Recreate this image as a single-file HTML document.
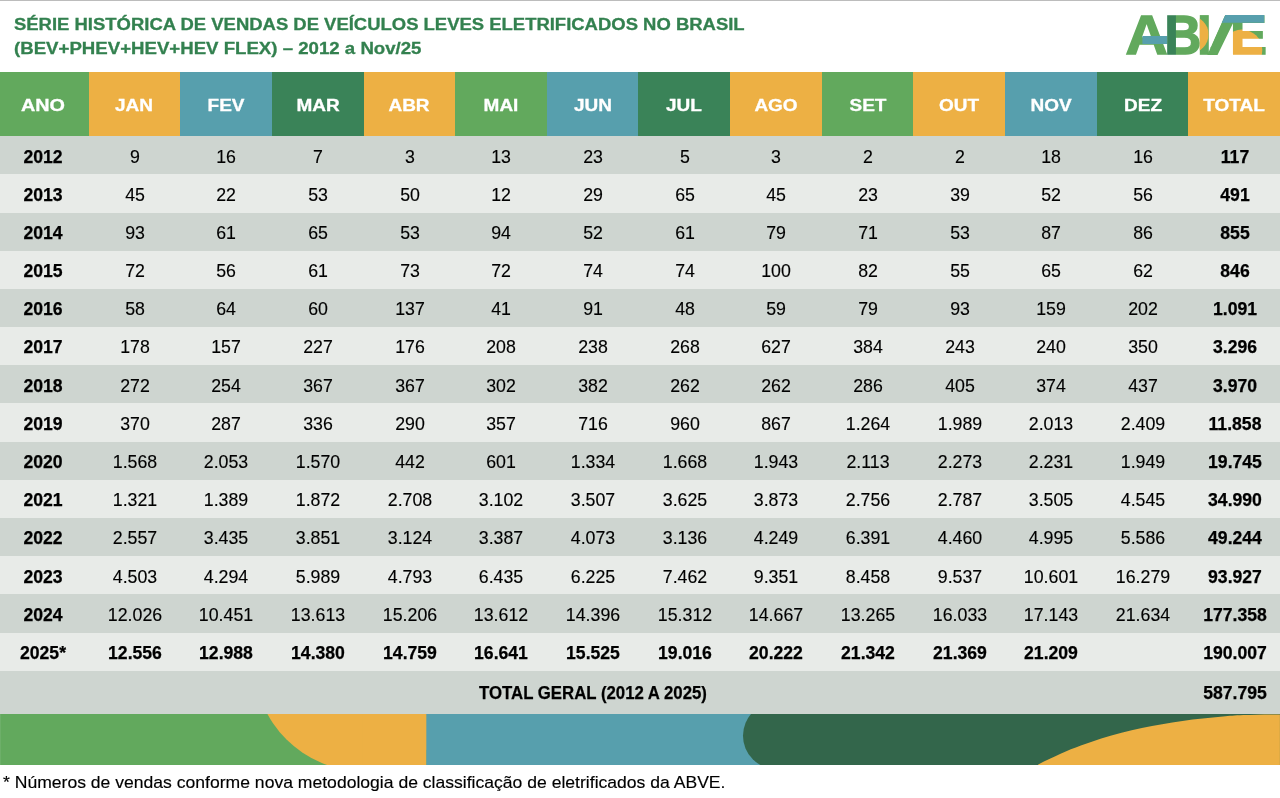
<!DOCTYPE html>
<html lang="pt-BR"><head><meta charset="utf-8"><title>ABVE</title>
<style>
html,body{margin:0;padding:0;background:#fff}
body{width:1280px;height:798px;position:relative;overflow:hidden;font-family:"Liberation Sans",sans-serif;color:#000}
.a{position:absolute}
.t{position:absolute;white-space:nowrap;line-height:1;transform-origin:50% 50%;text-align:center}
.n{-webkit-text-stroke:0.15px #000;font-size:17.9px;width:120px;margin-left:-60px;transform:scaleX(0.992)}
.b{font-weight:bold;transform:scaleX(0.984);-webkit-text-stroke:0.25px #000}
.h{-webkit-text-stroke:0.3px #fff;font-weight:bold;color:#fff;font-size:16.5px;width:120px;margin-left:-60px;transform:scaleX(1.15)}

</style></head><body>
<div class="a" style="left:0;top:0;width:1280px;height:1.4px;background:linear-gradient(#b2b2b2 0,#bdbdbd 55%,#f4f4f4 100%)"></div>
<div id="t1" class="t" style="left:14.3px;top:16.1px;font-weight:bold;font-size:17.2px;color:#33814f;-webkit-text-stroke:0.3px #33814f;transform-origin:0 50%;text-align:left;transform:scaleX(1.074)">SÉRIE HISTÓRICA DE VENDAS DE VEÍCULOS LEVES ELETRIFICADOS NO BRASIL</div>
<div id="t2" class="t" style="left:14.3px;top:39.9px;font-weight:bold;font-size:17.2px;color:#33814f;-webkit-text-stroke:0.3px #33814f;transform-origin:0 50%;text-align:left;transform:scaleX(1.084)">(BEV+PHEV+HEV+HEV FLEX) – 2012 a Nov/25</div>
<svg class="a" style="left:1120px;top:8px" width="160" height="56" viewBox="1120 8 160 56" font-family="Liberation Sans, sans-serif" font-weight="bold" font-size="55.5"><defs><mask id="mB" maskUnits="userSpaceOnUse" x="1120" y="8" width="160" height="56"><text transform="translate(1167.85,54.05) scale(0.919,1)" x="-3.71" y="0" fill="#fff" stroke="#fff" stroke-width="1.5" stroke-linejoin="miter">B</text></mask><mask id="mE" maskUnits="userSpaceOnUse" x="1120" y="8" width="160" height="56"><text transform="translate(1233.75,54.05) scale(1.000,1)" x="-3.71" y="0" fill="#fff" stroke="#fff" stroke-width="1.5" stroke-linejoin="miter">E</text></mask><clipPath id="cV"><polygon points="1207.3,54.9 1225.3,15.0 1250,15.0 1250,54.9"/></clipPath><clipPath id="cI"><rect x="1199.8" y="15.1" width="9" height="39.7"/></clipPath></defs><text transform="translate(1127.05,54.05) scale(1.054,1)" x="-1.38" y="0" fill="#62a95d" stroke="#62a95d" stroke-width="1.5" stroke-linejoin="miter">A</text><rect x="1142.4" y="36.0" width="25" height="8.0" fill="#579fad"/><g mask="url(#mB)"><rect x="1160" y="8" width="50" height="56" fill="#62a95d"/><rect x="1160" y="8" width="15.9" height="56" fill="#3a8358"/></g><rect x="1199.8" y="15.1" width="9" height="39.7" fill="#62a95d"/><circle cx="1190.2" cy="34.4" r="18.4" fill="#edb044" clip-path="url(#cI)"/><g clip-path="url(#cV)"><text transform="translate(1191.45,54.05) matrix(1.028,0,-0.1090,1,0,0)" x="0" y="0" fill="#62a95d" stroke="#62a95d" stroke-width="6" stroke-linejoin="miter">V</text></g><g mask="url(#mE)"><rect x="1228" y="8" width="45" height="56" fill="#62a95d"/><circle cx="1241.8" cy="50.1" r="20.5" fill="#edb044"/></g><polygon points="1225.3,15.1 1264.2,15.1 1264.2,22.8 1221.8,22.8" fill="#579fad"/></svg>
<div class="a" style="left:0.00px;top:72.2px;width:88.90px;height:64.00px;background:#62a95d"></div>
<div class="a" style="left:88.60px;top:72.2px;width:91.95px;height:64.00px;background:#edb044"></div>
<div class="a" style="left:180.25px;top:72.2px;width:91.95px;height:64.00px;background:#579fad"></div>
<div class="a" style="left:271.89px;top:72.2px;width:91.95px;height:64.00px;background:#3a8358"></div>
<div class="a" style="left:363.54px;top:72.2px;width:91.95px;height:64.00px;background:#edb044"></div>
<div class="a" style="left:455.18px;top:72.2px;width:91.95px;height:64.00px;background:#62a95d"></div>
<div class="a" style="left:546.83px;top:72.2px;width:91.95px;height:64.00px;background:#579fad"></div>
<div class="a" style="left:638.48px;top:72.2px;width:91.95px;height:64.00px;background:#3a8358"></div>
<div class="a" style="left:730.12px;top:72.2px;width:91.95px;height:64.00px;background:#edb044"></div>
<div class="a" style="left:821.77px;top:72.2px;width:91.95px;height:64.00px;background:#62a95d"></div>
<div class="a" style="left:913.42px;top:72.2px;width:91.95px;height:64.00px;background:#edb044"></div>
<div class="a" style="left:1005.06px;top:72.2px;width:91.95px;height:64.00px;background:#579fad"></div>
<div class="a" style="left:1096.71px;top:72.2px;width:91.95px;height:64.00px;background:#3a8358"></div>
<div class="a" style="left:1188.35px;top:72.2px;width:91.95px;height:64.00px;background:#edb044"></div>
<div class="t h" style="left:43.20px;top:97.15px;transform:scaleX(1.2)">ANO</div>
<div class="t h" style="left:134.42px;top:97.15px">JAN</div>
<div class="t h" style="left:226.07px;top:97.15px">FEV</div>
<div class="t h" style="left:317.72px;top:97.15px">MAR</div>
<div class="t h" style="left:409.36px;top:97.15px">ABR</div>
<div class="t h" style="left:501.01px;top:97.15px">MAI</div>
<div class="t h" style="left:592.65px;top:97.15px">JUN</div>
<div class="t h" style="left:684.30px;top:97.15px">JUL</div>
<div class="t h" style="left:775.95px;top:97.15px">AGO</div>
<div class="t h" style="left:867.59px;top:97.15px">SET</div>
<div class="t h" style="left:959.24px;top:97.15px">OUT</div>
<div class="t h" style="left:1050.88px;top:97.15px">NOV</div>
<div class="t h" style="left:1142.53px;top:97.15px">DEZ</div>
<div class="t h" style="left:1234.18px;top:97.15px">TOTAL</div>
<div class="a" style="left:0;top:136.20px;width:1280px;height:38.48px;background:#ced5d0"></div>
<div class="a" style="left:0;top:174.38px;width:1280px;height:38.48px;background:#e8ebe8"></div>
<div class="a" style="left:0;top:212.56px;width:1280px;height:38.48px;background:#ced5d0"></div>
<div class="a" style="left:0;top:250.74px;width:1280px;height:38.48px;background:#e8ebe8"></div>
<div class="a" style="left:0;top:288.91px;width:1280px;height:38.48px;background:#ced5d0"></div>
<div class="a" style="left:0;top:327.09px;width:1280px;height:38.48px;background:#e8ebe8"></div>
<div class="a" style="left:0;top:365.27px;width:1280px;height:38.48px;background:#ced5d0"></div>
<div class="a" style="left:0;top:403.45px;width:1280px;height:38.48px;background:#e8ebe8"></div>
<div class="a" style="left:0;top:441.63px;width:1280px;height:38.48px;background:#ced5d0"></div>
<div class="a" style="left:0;top:479.81px;width:1280px;height:38.48px;background:#e8ebe8"></div>
<div class="a" style="left:0;top:517.99px;width:1280px;height:38.48px;background:#ced5d0"></div>
<div class="a" style="left:0;top:556.16px;width:1280px;height:38.48px;background:#e8ebe8"></div>
<div class="a" style="left:0;top:594.34px;width:1280px;height:38.48px;background:#ced5d0"></div>
<div class="a" style="left:0;top:632.52px;width:1280px;height:38.48px;background:#e8ebe8"></div>
<div class="a" style="left:0;top:670.70px;width:1280px;height:43.50px;background:#ced5d0"></div>
<div class="t n b" style="left:43.10px;top:148.54px">2012</div>
<div class="t n" style="left:134.82px;top:148.54px">9</div>
<div class="t n" style="left:226.47px;top:148.54px">16</div>
<div class="t n" style="left:318.12px;top:148.54px">7</div>
<div class="t n" style="left:409.76px;top:148.54px">3</div>
<div class="t n" style="left:501.41px;top:148.54px">13</div>
<div class="t n" style="left:593.05px;top:148.54px">23</div>
<div class="t n" style="left:684.70px;top:148.54px">5</div>
<div class="t n" style="left:776.35px;top:148.54px">3</div>
<div class="t n" style="left:867.99px;top:148.54px">2</div>
<div class="t n" style="left:959.64px;top:148.54px">2</div>
<div class="t n" style="left:1051.28px;top:148.54px">18</div>
<div class="t n" style="left:1142.93px;top:148.54px">16</div>
<div class="t n b" style="left:1235.38px;top:148.54px">117</div>
<div class="t n b" style="left:43.10px;top:186.72px">2013</div>
<div class="t n" style="left:134.82px;top:186.72px">45</div>
<div class="t n" style="left:226.47px;top:186.72px">22</div>
<div class="t n" style="left:318.12px;top:186.72px">53</div>
<div class="t n" style="left:409.76px;top:186.72px">50</div>
<div class="t n" style="left:501.41px;top:186.72px">12</div>
<div class="t n" style="left:593.05px;top:186.72px">29</div>
<div class="t n" style="left:684.70px;top:186.72px">65</div>
<div class="t n" style="left:776.35px;top:186.72px">45</div>
<div class="t n" style="left:867.99px;top:186.72px">23</div>
<div class="t n" style="left:959.64px;top:186.72px">39</div>
<div class="t n" style="left:1051.28px;top:186.72px">52</div>
<div class="t n" style="left:1142.93px;top:186.72px">56</div>
<div class="t n b" style="left:1235.38px;top:186.72px">491</div>
<div class="t n b" style="left:43.10px;top:224.90px">2014</div>
<div class="t n" style="left:134.82px;top:224.90px">93</div>
<div class="t n" style="left:226.47px;top:224.90px">61</div>
<div class="t n" style="left:318.12px;top:224.90px">65</div>
<div class="t n" style="left:409.76px;top:224.90px">53</div>
<div class="t n" style="left:501.41px;top:224.90px">94</div>
<div class="t n" style="left:593.05px;top:224.90px">52</div>
<div class="t n" style="left:684.70px;top:224.90px">61</div>
<div class="t n" style="left:776.35px;top:224.90px">79</div>
<div class="t n" style="left:867.99px;top:224.90px">71</div>
<div class="t n" style="left:959.64px;top:224.90px">53</div>
<div class="t n" style="left:1051.28px;top:224.90px">87</div>
<div class="t n" style="left:1142.93px;top:224.90px">86</div>
<div class="t n b" style="left:1235.38px;top:224.90px">855</div>
<div class="t n b" style="left:43.10px;top:263.07px">2015</div>
<div class="t n" style="left:134.82px;top:263.07px">72</div>
<div class="t n" style="left:226.47px;top:263.07px">56</div>
<div class="t n" style="left:318.12px;top:263.07px">61</div>
<div class="t n" style="left:409.76px;top:263.07px">73</div>
<div class="t n" style="left:501.41px;top:263.07px">72</div>
<div class="t n" style="left:593.05px;top:263.07px">74</div>
<div class="t n" style="left:684.70px;top:263.07px">74</div>
<div class="t n" style="left:776.35px;top:263.07px">100</div>
<div class="t n" style="left:867.99px;top:263.07px">82</div>
<div class="t n" style="left:959.64px;top:263.07px">55</div>
<div class="t n" style="left:1051.28px;top:263.07px">65</div>
<div class="t n" style="left:1142.93px;top:263.07px">62</div>
<div class="t n b" style="left:1235.38px;top:263.07px">846</div>
<div class="t n b" style="left:43.10px;top:301.25px">2016</div>
<div class="t n" style="left:134.82px;top:301.25px">58</div>
<div class="t n" style="left:226.47px;top:301.25px">64</div>
<div class="t n" style="left:318.12px;top:301.25px">60</div>
<div class="t n" style="left:409.76px;top:301.25px">137</div>
<div class="t n" style="left:501.41px;top:301.25px">41</div>
<div class="t n" style="left:593.05px;top:301.25px">91</div>
<div class="t n" style="left:684.70px;top:301.25px">48</div>
<div class="t n" style="left:776.35px;top:301.25px">59</div>
<div class="t n" style="left:867.99px;top:301.25px">79</div>
<div class="t n" style="left:959.64px;top:301.25px">93</div>
<div class="t n" style="left:1051.28px;top:301.25px">159</div>
<div class="t n" style="left:1142.93px;top:301.25px">202</div>
<div class="t n b" style="left:1235.38px;top:301.25px">1.091</div>
<div class="t n b" style="left:43.10px;top:339.43px">2017</div>
<div class="t n" style="left:134.82px;top:339.43px">178</div>
<div class="t n" style="left:226.47px;top:339.43px">157</div>
<div class="t n" style="left:318.12px;top:339.43px">227</div>
<div class="t n" style="left:409.76px;top:339.43px">176</div>
<div class="t n" style="left:501.41px;top:339.43px">208</div>
<div class="t n" style="left:593.05px;top:339.43px">238</div>
<div class="t n" style="left:684.70px;top:339.43px">268</div>
<div class="t n" style="left:776.35px;top:339.43px">627</div>
<div class="t n" style="left:867.99px;top:339.43px">384</div>
<div class="t n" style="left:959.64px;top:339.43px">243</div>
<div class="t n" style="left:1051.28px;top:339.43px">240</div>
<div class="t n" style="left:1142.93px;top:339.43px">350</div>
<div class="t n b" style="left:1235.38px;top:339.43px">3.296</div>
<div class="t n b" style="left:43.10px;top:377.61px">2018</div>
<div class="t n" style="left:134.82px;top:377.61px">272</div>
<div class="t n" style="left:226.47px;top:377.61px">254</div>
<div class="t n" style="left:318.12px;top:377.61px">367</div>
<div class="t n" style="left:409.76px;top:377.61px">367</div>
<div class="t n" style="left:501.41px;top:377.61px">302</div>
<div class="t n" style="left:593.05px;top:377.61px">382</div>
<div class="t n" style="left:684.70px;top:377.61px">262</div>
<div class="t n" style="left:776.35px;top:377.61px">262</div>
<div class="t n" style="left:867.99px;top:377.61px">286</div>
<div class="t n" style="left:959.64px;top:377.61px">405</div>
<div class="t n" style="left:1051.28px;top:377.61px">374</div>
<div class="t n" style="left:1142.93px;top:377.61px">437</div>
<div class="t n b" style="left:1235.38px;top:377.61px">3.970</div>
<div class="t n b" style="left:43.10px;top:415.79px">2019</div>
<div class="t n" style="left:134.82px;top:415.79px">370</div>
<div class="t n" style="left:226.47px;top:415.79px">287</div>
<div class="t n" style="left:318.12px;top:415.79px">336</div>
<div class="t n" style="left:409.76px;top:415.79px">290</div>
<div class="t n" style="left:501.41px;top:415.79px">357</div>
<div class="t n" style="left:593.05px;top:415.79px">716</div>
<div class="t n" style="left:684.70px;top:415.79px">960</div>
<div class="t n" style="left:776.35px;top:415.79px">867</div>
<div class="t n" style="left:867.99px;top:415.79px">1.264</div>
<div class="t n" style="left:959.64px;top:415.79px">1.989</div>
<div class="t n" style="left:1051.28px;top:415.79px">2.013</div>
<div class="t n" style="left:1142.93px;top:415.79px">2.409</div>
<div class="t n b" style="left:1235.38px;top:415.79px">11.858</div>
<div class="t n b" style="left:43.10px;top:453.97px">2020</div>
<div class="t n" style="left:134.82px;top:453.97px">1.568</div>
<div class="t n" style="left:226.47px;top:453.97px">2.053</div>
<div class="t n" style="left:318.12px;top:453.97px">1.570</div>
<div class="t n" style="left:409.76px;top:453.97px">442</div>
<div class="t n" style="left:501.41px;top:453.97px">601</div>
<div class="t n" style="left:593.05px;top:453.97px">1.334</div>
<div class="t n" style="left:684.70px;top:453.97px">1.668</div>
<div class="t n" style="left:776.35px;top:453.97px">1.943</div>
<div class="t n" style="left:867.99px;top:453.97px">2.113</div>
<div class="t n" style="left:959.64px;top:453.97px">2.273</div>
<div class="t n" style="left:1051.28px;top:453.97px">2.231</div>
<div class="t n" style="left:1142.93px;top:453.97px">1.949</div>
<div class="t n b" style="left:1235.38px;top:453.97px">19.745</div>
<div class="t n b" style="left:43.10px;top:492.15px">2021</div>
<div class="t n" style="left:134.82px;top:492.15px">1.321</div>
<div class="t n" style="left:226.47px;top:492.15px">1.389</div>
<div class="t n" style="left:318.12px;top:492.15px">1.872</div>
<div class="t n" style="left:409.76px;top:492.15px">2.708</div>
<div class="t n" style="left:501.41px;top:492.15px">3.102</div>
<div class="t n" style="left:593.05px;top:492.15px">3.507</div>
<div class="t n" style="left:684.70px;top:492.15px">3.625</div>
<div class="t n" style="left:776.35px;top:492.15px">3.873</div>
<div class="t n" style="left:867.99px;top:492.15px">2.756</div>
<div class="t n" style="left:959.64px;top:492.15px">2.787</div>
<div class="t n" style="left:1051.28px;top:492.15px">3.505</div>
<div class="t n" style="left:1142.93px;top:492.15px">4.545</div>
<div class="t n b" style="left:1235.38px;top:492.15px">34.990</div>
<div class="t n b" style="left:43.10px;top:530.32px">2022</div>
<div class="t n" style="left:134.82px;top:530.32px">2.557</div>
<div class="t n" style="left:226.47px;top:530.32px">3.435</div>
<div class="t n" style="left:318.12px;top:530.32px">3.851</div>
<div class="t n" style="left:409.76px;top:530.32px">3.124</div>
<div class="t n" style="left:501.41px;top:530.32px">3.387</div>
<div class="t n" style="left:593.05px;top:530.32px">4.073</div>
<div class="t n" style="left:684.70px;top:530.32px">3.136</div>
<div class="t n" style="left:776.35px;top:530.32px">4.249</div>
<div class="t n" style="left:867.99px;top:530.32px">6.391</div>
<div class="t n" style="left:959.64px;top:530.32px">4.460</div>
<div class="t n" style="left:1051.28px;top:530.32px">4.995</div>
<div class="t n" style="left:1142.93px;top:530.32px">5.586</div>
<div class="t n b" style="left:1235.38px;top:530.32px">49.244</div>
<div class="t n b" style="left:43.10px;top:568.50px">2023</div>
<div class="t n" style="left:134.82px;top:568.50px">4.503</div>
<div class="t n" style="left:226.47px;top:568.50px">4.294</div>
<div class="t n" style="left:318.12px;top:568.50px">5.989</div>
<div class="t n" style="left:409.76px;top:568.50px">4.793</div>
<div class="t n" style="left:501.41px;top:568.50px">6.435</div>
<div class="t n" style="left:593.05px;top:568.50px">6.225</div>
<div class="t n" style="left:684.70px;top:568.50px">7.462</div>
<div class="t n" style="left:776.35px;top:568.50px">9.351</div>
<div class="t n" style="left:867.99px;top:568.50px">8.458</div>
<div class="t n" style="left:959.64px;top:568.50px">9.537</div>
<div class="t n" style="left:1051.28px;top:568.50px">10.601</div>
<div class="t n" style="left:1142.93px;top:568.50px">16.279</div>
<div class="t n b" style="left:1235.38px;top:568.50px">93.927</div>
<div class="t n b" style="left:43.10px;top:606.68px">2024</div>
<div class="t n" style="left:134.82px;top:606.68px">12.026</div>
<div class="t n" style="left:226.47px;top:606.68px">10.451</div>
<div class="t n" style="left:318.12px;top:606.68px">13.613</div>
<div class="t n" style="left:409.76px;top:606.68px">15.206</div>
<div class="t n" style="left:501.41px;top:606.68px">13.612</div>
<div class="t n" style="left:593.05px;top:606.68px">14.396</div>
<div class="t n" style="left:684.70px;top:606.68px">15.312</div>
<div class="t n" style="left:776.35px;top:606.68px">14.667</div>
<div class="t n" style="left:867.99px;top:606.68px">13.265</div>
<div class="t n" style="left:959.64px;top:606.68px">16.033</div>
<div class="t n" style="left:1051.28px;top:606.68px">17.143</div>
<div class="t n" style="left:1142.93px;top:606.68px">21.634</div>
<div class="t n b" style="left:1235.38px;top:606.68px">177.358</div>
<div class="t n b" style="left:43.10px;top:644.86px">2025*</div>
<div class="t n b" style="left:134.82px;top:644.86px">12.556</div>
<div class="t n b" style="left:226.47px;top:644.86px">12.988</div>
<div class="t n b" style="left:318.12px;top:644.86px">14.380</div>
<div class="t n b" style="left:409.76px;top:644.86px">14.759</div>
<div class="t n b" style="left:501.41px;top:644.86px">16.641</div>
<div class="t n b" style="left:593.05px;top:644.86px">15.525</div>
<div class="t n b" style="left:684.70px;top:644.86px">19.016</div>
<div class="t n b" style="left:776.35px;top:644.86px">20.222</div>
<div class="t n b" style="left:867.99px;top:644.86px">21.342</div>
<div class="t n b" style="left:959.64px;top:644.86px">21.369</div>
<div class="t n b" style="left:1051.28px;top:644.86px">21.209</div>
<div class="t n b" style="left:1235.38px;top:644.86px">190.007</div>
<div class="t n b" style="left:593px;top:685.20px;width:400px;margin-left:-200px;transform:scaleX(0.938)">TOTAL GERAL (2012 A 2025)</div>
<div class="t n b" style="left:1234.98px;top:685.20px">587.795</div>
<svg class="a" style="left:0;top:714.0px" width="1280" height="50.60" viewBox="0 714.0 1280 50.60"><rect x="0" y="714.0" width="1280" height="60" fill="#62a95d"/><circle cx="362.6" cy="663" r="108" fill="#edb044"/><rect x="362.6" y="714.0" width="64" height="60" fill="#edb044"/><rect x="426.3" y="714.0" width="360" height="60" fill="#579fad"/><path d="M776.4,702.3A33.4,33.4 0 0 0 776.4,769.1L1282,769.1L1282,702.3Z" fill="#33664b"/><path d="M1038.3,764.5C1045.4,760.6 1053.5,756.9 1060.6,753.7C1067.7,750.6 1074.1,748.1 1080.9,745.6C1087.7,743.1 1094.5,740.6 1101.3,738.5C1108.1,736.4 1114.8,734.6 1121.6,732.8C1128.4,731.0 1135.1,729.3 1141.9,727.9C1148.7,726.5 1155.4,725.4 1162.2,724.3C1169.0,723.1 1175.7,722.0 1182.5,721.0C1189.3,720.0 1196.0,719.3 1202.8,718.6C1209.6,717.9 1216.3,717.2 1223.1,716.6C1229.9,716.0 1233.9,715.5 1243.4,715.1C1252.9,714.7 1267.2,714.5 1280.0,714.4L1280,780L1030,780Z" fill="#edb044"/></svg>
<div id="fn" class="t" style="left:3.0px;top:774px;font-size:16.2px;transform-origin:0 50%;text-align:left;transform:scaleX(1.085);-webkit-text-stroke:0.15px #000">* Números de vendas conforme nova metodologia de classificação de eletrificados da ABVE.</div>
</body></html>
